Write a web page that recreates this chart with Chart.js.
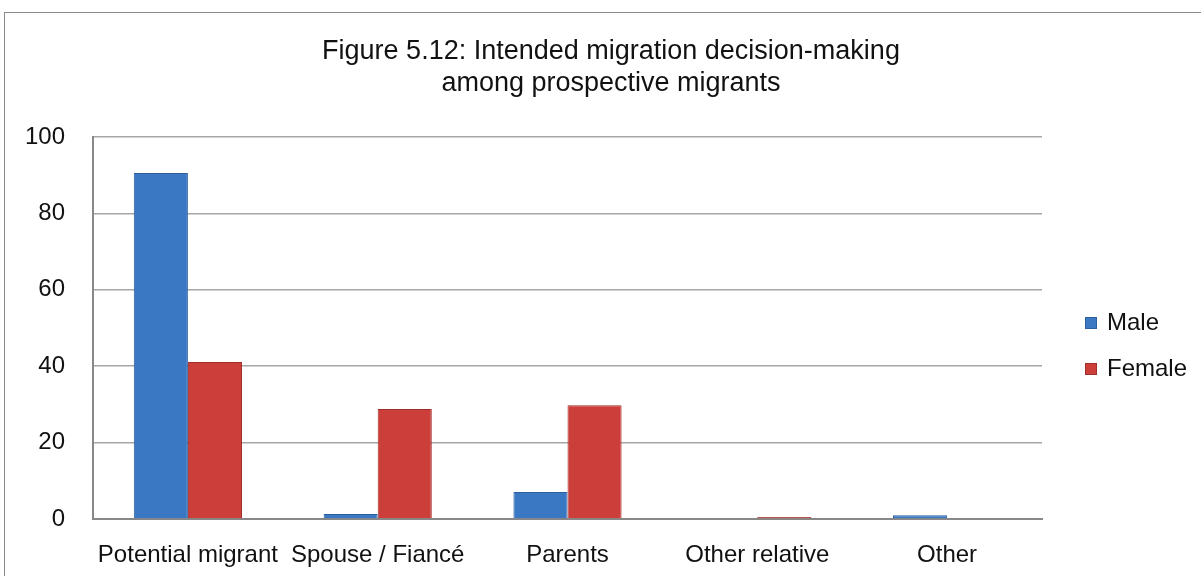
<!DOCTYPE html>
<html>
<head>
<meta charset="utf-8">
<script src="https://cdn.jsdelivr.net/npm/chart.js@4/dist/chart.umd.min.js"></script>
<style>
  html, body { margin:0; padding:0; background:#fff; overflow:hidden; width:1201px; height:576px; }
  #frame { position:absolute; left:4px; top:12px; width:1220px; height:600px; border:1px solid #8a8a8a; box-sizing:border-box; }
  #wrap { position:absolute; left:0; top:0; width:1201px; height:576px; }
  #title { position:absolute; left:0; width:1222px; top:34px; text-align:center; font-family:"Liberation Sans", Arial, sans-serif; font-size:27px; line-height:32px; color:#111; }
  .leg { position:absolute; font-family:"Liberation Sans", Arial, sans-serif; font-size:24px; color:#111; line-height:24px; white-space:nowrap; }
  .leg span.box { display:inline-block; width:12px; height:12px; margin-right:10px; vertical-align:1px; box-sizing:border-box; }
</style>
</head>
<body>
<div id="frame"></div>
<div id="wrap"><canvas id="c" width="1201" height="576"></canvas></div>
<div id="title"></div>
<div class="leg" id="legMale" style="left:1085px; top:310px;"></div>
<div class="leg" id="legFemale" style="left:1085px; top:356px;"></div>
<script>
const categories = ["Potential migrant", "Spouse / Fiancé", "Parents", "Other relative", "Other"];
const maleValues = [90.6, 1.3, 7.1, 0, 1.0];
const femaleValues = [41.1, 28.8, 29.8, 0.5, 0];
const yTicks = [0, 20, 40, 60, 80, 100];
const titleLines = ["Figure 5.12: Intended migration decision-making", "among prospective migrants"];
const seriesNames = ["Male", "Female"];
const seriesColors = ["#3b78c4", "#cc3e3a"];
const seriesDark = ["#2c5f9e", "#a02e2b"];

const FONT = "'Liberation Sans', Arial, sans-serif";

// title & legend as real text
const t = document.getElementById('title');
titleLines.forEach((l, i) => { if (i) t.appendChild(document.createElement('br')); t.appendChild(document.createTextNode(l)); });
[['legMale', 0], ['legFemale', 1]].forEach(([id, i]) => {
  const d = document.getElementById(id);
  const b = document.createElement('span');
  b.className = 'box';
  b.style.background = seriesColors[i];
  b.style.border = '1px solid ' + seriesDark[i];
  d.appendChild(b);
  d.appendChild(document.createTextNode(seriesNames[i]));
});

function grad(ctx, base, dark) {
  const el = ctx.element;
  const chart = ctx.chart;
  if (!el || !chart.chartArea) return base;
  const x = el.x, w = el.width;
  if (!isFinite(x) || !isFinite(w) || w <= 0) return base;
  const g = chart.ctx.createLinearGradient(x - w/2, 0, x + w/2, 0);
  g.addColorStop(0, dark);
  g.addColorStop(0.15, base);
  g.addColorStop(0.85, base);
  g.addColorStop(1, dark);
  return g;
}

new Chart(document.getElementById('c'), {
  type: 'bar',
  data: {
    labels: categories,
    datasets: [
      { label: seriesNames[0], data: maleValues,
        backgroundColor: ctx => grad(ctx, seriesColors[0], seriesDark[0]),
        borderColor: seriesDark[0], borderWidth: 1 },
      { label: seriesNames[1], data: femaleValues,
        backgroundColor: ctx => grad(ctx, seriesColors[1], seriesDark[1]),
        borderColor: seriesDark[1], borderWidth: 1 }
    ]
  },
  options: {
    responsive: false,
    animation: false,
    layout: { padding: { left: 0, right: 159, top: 137, bottom: 0 } },
    datasets: { bar: { barPercentage: 1.0, categoryPercentage: 0.57 } },
    plugins: {
      legend: { display: false },
      tooltip: { enabled: false },
      title: { display: false }
    },
    scales: {
      x: {
        afterFit: s => { s.height = 57; },
        grid: { display: false, drawTicks: false },
        border: { display: true, color: '#888', width: 2 },
        ticks: { color: '#111', font: { family: FONT, size: 24 }, padding: 22, maxRotation: 0, autoSkip: false }
      },
      y: {
        min: 0, max: 100,
        afterBuildTicks: s => { s.ticks = yTicks.map(v => ({ value: v })); },
        afterFit: s => { s.width = 93; },
        grid: { color: '#a6a6a6', lineWidth: 1.5, drawTicks: false },
        border: { display: true, color: '#888', width: 2 },
        ticks: { color: '#111', font: { family: FONT, size: 24 }, padding: 28 }
      }
    }
  }
});
</script>
</body>
</html>
